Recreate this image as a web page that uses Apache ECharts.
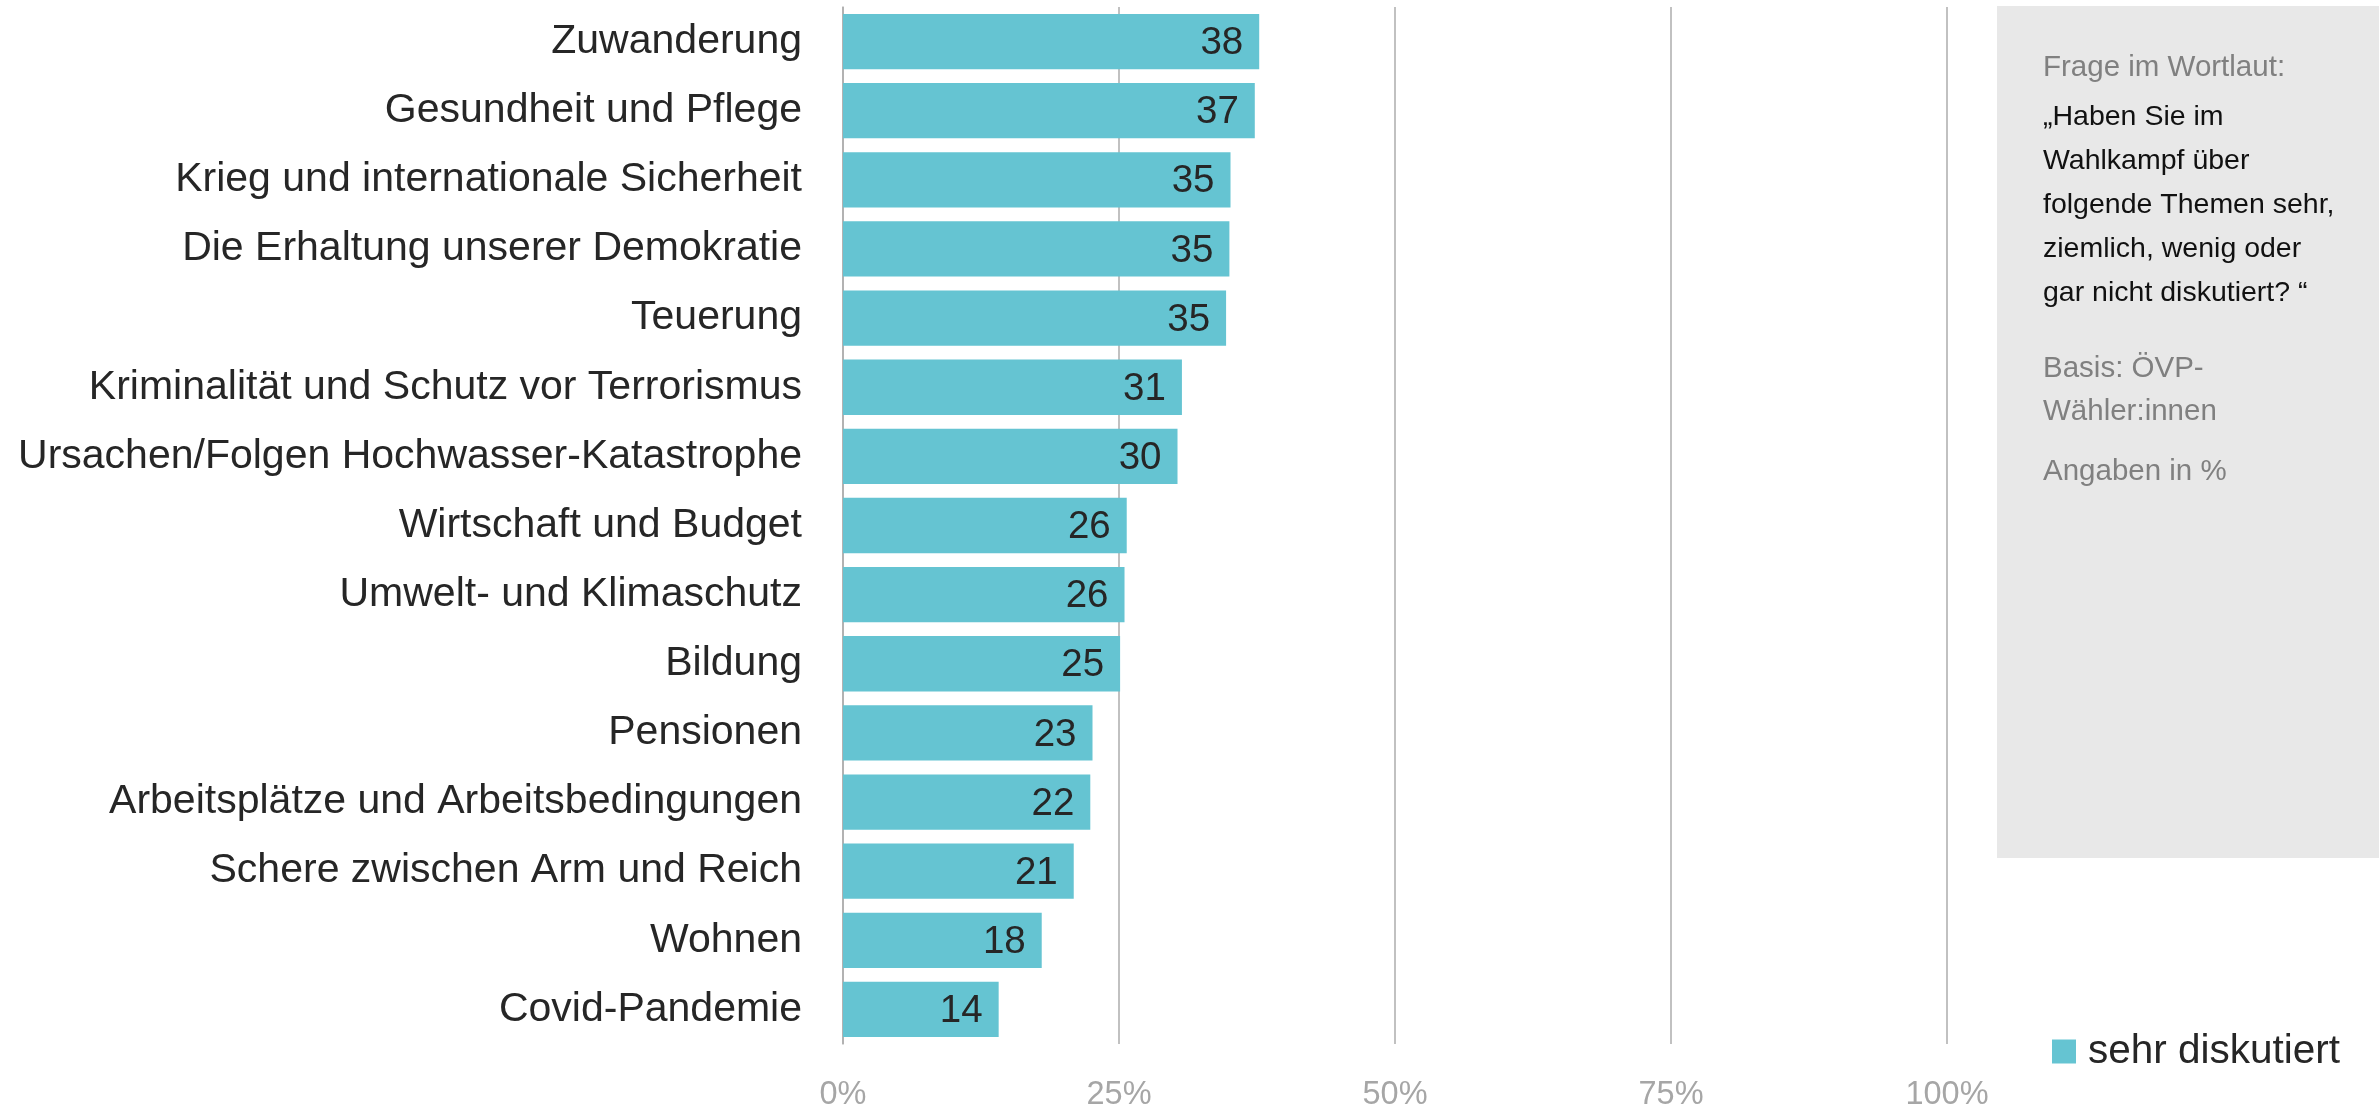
<!DOCTYPE html>
<html>
<head>
<meta charset="utf-8">
<script src="https://cdn.jsdelivr.net/npm/echarts@6/dist/echarts.min.js"></script>
<style>
html,body{margin:0;padding:0;background:#fff;}
#chart{width:2379px;height:1107px;}
</style>
</head>
<body>
<div id="chart"></div>
<script>
const categories = [
  "Zuwanderung",
  "Gesundheit und Pflege",
  "Krieg und internationale Sicherheit",
  "Die Erhaltung unserer Demokratie",
  "Teuerung",
  "Kriminalität und Schutz vor Terrorismus",
  "Ursachen/Folgen Hochwasser-Katastrophe",
  "Wirtschaft und Budget",
  "Umwelt- und Klimaschutz",
  "Bildung",
  "Pensionen",
  "Arbeitsplätze und Arbeitsbedingungen",
  "Schere zwischen Arm und Reich",
  "Wohnen",
  "Covid-Pandemie"
];
const sehrDiskutiert = [37.7, 37.3, 35.1, 35.0, 34.7, 30.7, 30.3, 25.7, 25.5, 25.1, 22.6, 22.4, 20.9, 18.0, 14.1];
const xTicks = [0, 25, 50, 75, 100];
const seriesName = "sehr diskutiert";
const noteGray1 = ["Frage im Wortlaut:"];
const noteQuestion = ["„Haben Sie im", "Wahlkampf über", "folgende Themen sehr,", "ziemlich, wenig oder", "gar nicht diskutiert? “"];
const noteGray2 = ["Basis: ÖVP-", "Wähler:innen"];
const noteGray3 = ["Angaben in %"];

const FONT = '"Liberation Sans", Arial, sans-serif';
const chart = echarts.init(document.getElementById('chart'), null, {renderer: 'canvas'});

const noteLines = [];
let y = 68;
noteGray1.forEach(t => { noteLines.push({t, c:'#808080', y, s: 29.5}); y += 49; });
noteQuestion.forEach(t => { noteLines.push({t, c:'#111111', y, s: 28.5}); y += 44; });
y = 369;
noteGray2.forEach(t => { noteLines.push({t, c:'#808080', y, s: 29.5}); y += 43; });
y = 472;
noteGray3.forEach(t => { noteLines.push({t, c:'#808080', y, s: 29.5}); y += 43; });

const graphics = [{
  type: 'rect', z: 0,
  shape: {x: 1997, y: 6, width: 382, height: 852},
  style: {fill: '#e8e8e8'}
}].concat(noteLines.map(l => ({
  type: 'text', z: 1,
  x: 2043, y: l.y,
  style: {text: l.t, fill: l.c, font: l.s + 'px ' + FONT, verticalAlign: 'middle', textAlign: 'left'}
})));

chart.setOption({
  animation: false,
  backgroundColor: '#ffffff',
  textStyle: {fontFamily: FONT},
  grid: {left: 843, right: 432, top: 7, bottom: 63, containLabel: false, outerBoundsMode: 'none'},
  legend: {
    data: [seriesName],
    left: 2047, top: 1026,
    itemWidth: 24, itemHeight: 24,
    icon: 'rect',
    textStyle: {fontSize: 40.5, color: '#262626', fontFamily: FONT, padding: [0,0,0,7]}
  },
  xAxis: {
    type: 'value', min: xTicks[0], max: xTicks[xTicks.length-1], interval: 25,
    axisLine: {show: false},
    axisTick: {show: false},
    splitLine: {show: true, lineStyle: {color: '#acacac', width: 1.5}},
    axisLabel: {formatter: v => v + '%', fontSize: 32.5, color: '#a6a6a6', margin: 35, fontFamily: FONT}
  },
  yAxis: {
    type: 'category', data: categories, inverse: true,
    axisLine: {show: true, lineStyle: {color: '#acacac', width: 1.5}},
    axisTick: {show: false},
    axisLabel: {fontSize: 41, color: '#262626', margin: 41, fontFamily: FONT}
  },
  series: [{
    name: seriesName,
    type: 'bar',
    data: sehrDiskutiert,
    barCategoryGap: '20%',
    itemStyle: {color: '#65c4d2'},
    label: {
      show: true, position: 'insideRight', distance: 16,
      formatter: p => Math.round(p.value),
      fontSize: 38.5, color: '#262626', fontFamily: FONT,
      offset: [0, 2]
    }
  }],
  graphic: graphics
});
</script>
</body>
</html>
